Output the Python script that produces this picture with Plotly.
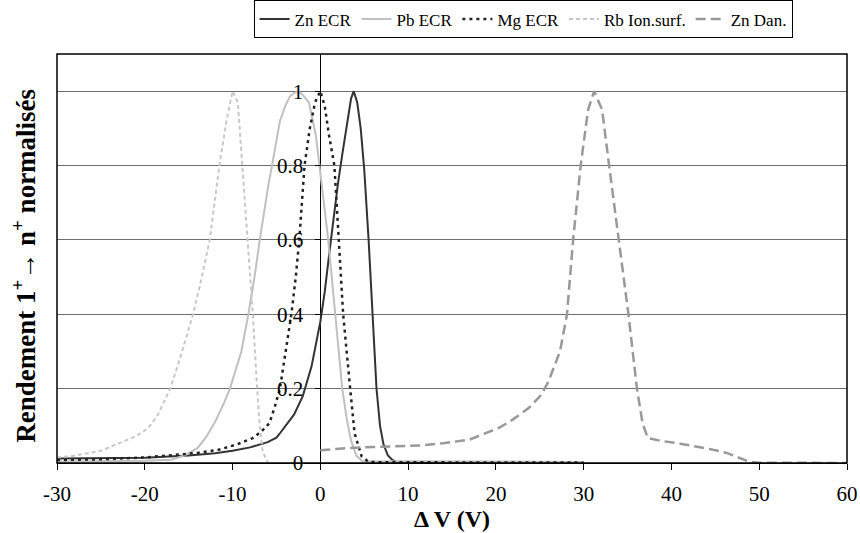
import plotly.graph_objects as go

# ---------------- data ----------------
zn_ecr_x = [-30, -25, -20, -15, -12, -10, -8, -6, -5, -4.6, -4, -3, -2, -1, 0, 0.5, 1, 1.5, 2, 2.5, 3, 3.5, 3.8,
            4.2, 4.6, 5, 5.5, 5.9, 6.4, 6.8, 7.2, 7.7, 8.2, 8.7, 10, 15, 20, 25, 30]
zn_ecr_y = [0.012, 0.012, 0.014, 0.02, 0.026, 0.033, 0.042, 0.056, 0.068, 0.08, 0.1, 0.13, 0.18, 0.26, 0.38, 0.46,
            0.56, 0.66, 0.75, 0.83, 0.91, 0.98, 1.0, 0.97, 0.9, 0.79, 0.6, 0.42, 0.2, 0.1, 0.05, 0.02, 0.008, 0.003,
            0.002, 0.002, 0.002, 0.002, 0.001]

pb_ecr_x = [-30, -25, -20, -17, -15.5, -14, -13, -12, -11, -10.3, -9, -8.2, -7.5, -6.9, -6.4, -5.9, -5.5, -4.6,
            -4, -3.5, -3, -2.5, -2, -1.3, -0.5, 0, 0.5, 0.9, 1.3, 1.7, 2.1, 2.5, 3, 3.5, 4.1, 4.8, 6, 10, 20, 30]
pb_ecr_y = [0.004, 0.004, 0.006, 0.009, 0.02, 0.04, 0.07, 0.11, 0.16, 0.2, 0.3, 0.4, 0.5, 0.6, 0.68, 0.75, 0.8,
            0.92, 0.96, 0.985, 0.995, 1.0, 0.99, 0.97, 0.88, 0.78, 0.68, 0.6, 0.5, 0.4, 0.3, 0.2, 0.12, 0.06, 0.02,
            0.005, 0.004, 0.005, 0.004, 0.003]

mg_ecr_x = [-30, -25, -20, -17, -14, -11.5, -9.5, -7.7, -6.7, -5.8, -5.2, -4.6, -4, -3.3, -2.8, -2.4, -1.8, -1.2,
            -0.6, 0, 0.5, 1, 1.6, 2.1, 2.6, 3.4, 3.9, 4.7, 5.5, 7, 10, 20, 30]
mg_ecr_y = [0.008, 0.01, 0.015, 0.02, 0.027, 0.036, 0.05, 0.067, 0.085, 0.107, 0.15, 0.2, 0.29, 0.4, 0.5, 0.6,
            0.8, 0.9, 0.97, 1.0, 0.96, 0.88, 0.8, 0.6, 0.4, 0.2, 0.08, 0.018, 0.003, 0.002, 0.002, 0.001, 0.001]

rb_x = [-30, -28.5, -25, -22.8, -21, -19.6, -18.5, -17.1, -16, -14.5, -13.5, -12.6, -11.5, -10.7, -10, -9.4,
        -8.9, -8.26, -7.69, -7.2, -6.9, -6.6, -6.2, -5.9]
rb_y = [0.015, 0.018, 0.033, 0.054, 0.072, 0.094, 0.13, 0.2, 0.28, 0.4, 0.5, 0.6, 0.8, 0.92, 1.0, 0.97, 0.8,
        0.6, 0.4, 0.2, 0.1, 0.036, 0.01, 0.0]

zn_dan_x = [0, 3, 6, 9, 11.4, 14, 17, 20.4, 22, 23.8, 25.2, 26, 27.3, 28.1, 28.8, 29.66, 30.5, 31.2, 32.1, 32.9,
            34, 35.1, 36.07, 36.7, 37.3, 38.7, 41, 44.7, 46.3, 48.9, 50, 55, 60]
zn_dan_y = [0.034, 0.04, 0.043, 0.046, 0.047, 0.053, 0.063, 0.095, 0.118, 0.149, 0.184, 0.22, 0.3, 0.4, 0.6, 0.8,
            0.95, 1.0, 0.95, 0.8, 0.6, 0.4, 0.2, 0.108, 0.067, 0.06, 0.052, 0.036, 0.027, 0.003, 0.001, 0, 0]

series_names = ["Zn ECR", "Pb ECR", "Mg ECR", "Rb Ion.surf.", "Zn Dan."]

x_ticks = [-30, -20, -10, 0, 10, 20, 30, 40, 50, 60]
x_ticktext = ["-30", "-20", "-10", "0", "10", "20", "30", "40", "50", "60"]
y_ticks = [0, 0.2, 0.4, 0.6, 0.8, 1.0]
y_ticktext = ["0", "0.2", "0.4", "0.6", "0.8", "1"]

FONT = "Liberation Serif, Times New Roman, serif"

fig = go.Figure()
fig.add_trace(go.Scatter(x=zn_ecr_x, y=zn_ecr_y, name=series_names[0], mode="lines",
                         line=dict(color="#333333", width=2)))
fig.add_trace(go.Scatter(x=pb_ecr_x, y=pb_ecr_y, name=series_names[1], mode="lines",
                         line=dict(color="#c0c0c0", width=2)))
fig.add_trace(go.Scatter(x=mg_ecr_x, y=mg_ecr_y, name=series_names[2], mode="lines",
                         line=dict(color="#222222", width=2.5, dash="3px,4px")))
fig.add_trace(go.Scatter(x=rb_x, y=rb_y, name=series_names[3], mode="lines",
                         line=dict(color="#c8c8c8", width=2, dash="4px,3px")))
fig.add_trace(go.Scatter(x=zn_dan_x, y=zn_dan_y, name=series_names[4], mode="lines",
                         line=dict(color="#999999", width=2.5, dash="10px,5px")))

fig.update_layout(
    width=860, height=533,
    margin=dict(l=57, r=13, t=54, b=70, autoexpand=False),
    paper_bgcolor="white", plot_bgcolor="white",
    font=dict(family=FONT, color="black", size=17),
    showlegend=True,
    legend=dict(orientation="h", x=0.59, xanchor="center", y=1.038, yanchor="bottom",
                bordercolor="black", borderwidth=1, bgcolor="white",
                font=dict(family=FONT, size=17, color="black"), itemwidth=30, tracegroupgap=0),
    xaxis=dict(range=[-30, 60], tickvals=x_ticks, ticktext=x_ticktext, ticks="outside", ticklen=6,
               tickcolor="black", showline=True, linecolor="black", linewidth=1, showgrid=False,
               zeroline=True, zerolinecolor="black", zerolinewidth=1,
               tickfont=dict(family=FONT, size=21, color="black"), ticklabelstandoff=6,
               title=dict(text="<b>Δ V (V)</b>", font=dict(family=FONT, size=24, color="black"), standoff=2)),
    yaxis=dict(range=[0, 1.1], tickvals=y_ticks, ticktext=y_ticktext, anchor="free", position=1/3,
               ticks="outside", ticklen=5, tickcolor="black", showline=False,
               showgrid=True, gridcolor="#6e6e6e", gridwidth=1, zeroline=False,
               tickfont=dict(family=FONT, size=21, color="black"), ticklabelstandoff=8),
)

fig.add_shape(type="rect", xref="paper", yref="paper", x0=0, y0=0, x1=1, y1=1,
              line=dict(color="black", width=1.5), layer="above")

fig.add_annotation(text="<b>Rendement 1<sup>+</sup>→ n<sup>+</sup> normalisés</b>", xref="paper", yref="paper",
                   x=-0.042, y=0.482, xanchor="center", yanchor="middle", textangle=-90, showarrow=False,
                   font=dict(family=FONT, size=27, color="black"))

fig.write_html("out.html", config={"displayModeBar": False},
               post_script="document.body.style.margin='0px';document.body.style.overflow='hidden';")
